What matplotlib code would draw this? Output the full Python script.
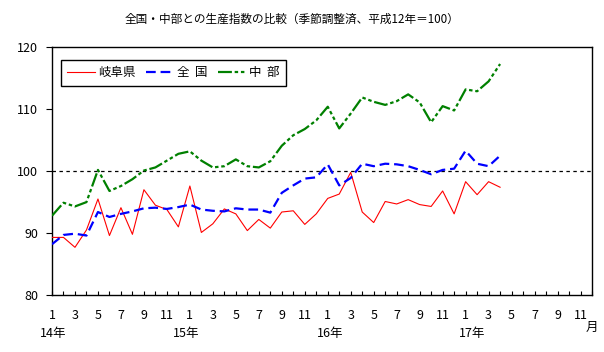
import matplotlib
matplotlib.use("Agg")
import matplotlib.pyplot as plt

plt.rcParams['font.family'] = ['Noto Sans CJK JP', 'DejaVu Sans']
plt.rcParams['lines.scale_dashes'] = False

# 14年1月 .. 17年4月
gifu = [89.3, 89.3, 87.7, 90.5, 95.5, 89.6, 94.1, 89.8, 97.0, 94.5, 93.8, 91.0,
        97.6, 90.1, 91.5, 93.9, 93.1, 90.4, 92.2, 90.8, 93.4, 93.6, 91.4, 93.1,
        95.6, 96.3, 99.8, 93.4, 91.7, 95.1, 94.7, 95.4, 94.6, 94.3, 96.8, 93.1,
        98.3, 96.2, 98.3, 97.4]
zenkoku = [88.2, 89.7, 89.9, 89.6, 93.4, 92.6, 93.1, 93.5, 94.0, 94.1, 93.9, 94.2,
           94.6, 93.8, 93.6, 93.5, 94.0, 93.8, 93.8, 93.3, 96.5, 97.7, 98.8, 99.0,
           101.1, 97.7, 98.9, 101.2, 100.8, 101.2, 101.1, 100.8, 100.2, 99.5, 100.2, 100.4,
           103.3, 101.2, 100.8, 102.5]
chubu = [92.8, 94.9, 94.3, 95.0, 100.2, 96.8, 97.6, 98.7, 100.1, 100.6, 101.7, 102.8,
         103.2, 101.7, 100.6, 100.8, 101.9, 100.8, 100.6, 101.6, 104.1, 105.8, 106.8, 108.2,
         110.4, 106.9, 109.3, 111.9, 111.2, 110.7, 111.3, 112.4, 111.1, 107.9, 110.5, 109.8,
         113.2, 112.9, 114.5, 117.3]
series_labels = ['岐阜県', '全  国', '中  部']
month_labels = ['1', '3', '5', '7', '9', '11']
year_labels = ['14年', '15年', '16年', '17年']
n_months = 48
title = '全国・中部との生産指数の比較（季節調整済、平成12年＝100）'

W, H = 604, 352
fig = plt.figure(figsize=(W / 100, H / 100), dpi=100)
ax = fig.add_axes([52 / W, 1 - 295 / H, 540 / W, (295 - 47.3) / H])

x = list(range(len(gifu)))
ax.axhline(100, color='black', lw=0.9, linestyle=(0, (2.5, 2.5)), zorder=1)
ax.plot(x, gifu, color='#FF0000', lw=0.8, label=series_labels[0], zorder=3)
ax.plot(x, zenkoku, color='#0000FF', lw=1.6, linestyle=(0, (7, 3.5)),
        label=series_labels[1], zorder=3)
ax.plot(x, chubu, color='#008000', lw=1.6, linestyle=(0, (10, 2, 2.5, 2, 2.5, 2)),
        label=series_labels[2], zorder=3)

ax.set_xlim(0, n_months - 1)
ax.set_ylim(80, 120)
ax.set_yticks([80, 90, 100, 110, 120])
ax.tick_params(axis='y', direction='out', length=4, width=0.8, pad=6, labelsize=9)
xt = list(range(n_months))
xl = [month_labels[(i % 12) // 2] if i % 2 == 0 else '' for i in xt]
ax.set_xticks(xt)
ax.set_xticklabels(xl)
ax.tick_params(axis='x', direction='in', length=3, width=0.8, pad=10, labelsize=9)
for s in ax.spines.values():
    s.set_linewidth(1.0)
    s.set_color('black')

leg = ax.legend(loc='upper left', bbox_to_anchor=((61 - 52) / 540, 1 - (60 - 47.3) / 247.7),
                borderaxespad=0, ncol=3, fontsize=9, frameon=True, fancybox=False,
                edgecolor='black', framealpha=1, handlelength=2.2, handletextpad=0.3,
                columnspacing=0.8, borderpad=0.5)
leg.get_frame().set_linewidth(1.0)

def fx(px):
    return px / W

def fy(py):
    return 1 - py / H

fig.text(fx(292), fy(19), title, ha='center', va='center', fontsize=8.4)
for lbl, px in zip(year_labels, [53, 186, 330, 472]):
    fig.text(fx(px), fy(333), lbl, ha='center', va='center', fontsize=9)
fig.text(fx(592), fy(327), '月', ha='center', va='center', fontsize=9)

fig.savefig('out.png', dpi=100)
